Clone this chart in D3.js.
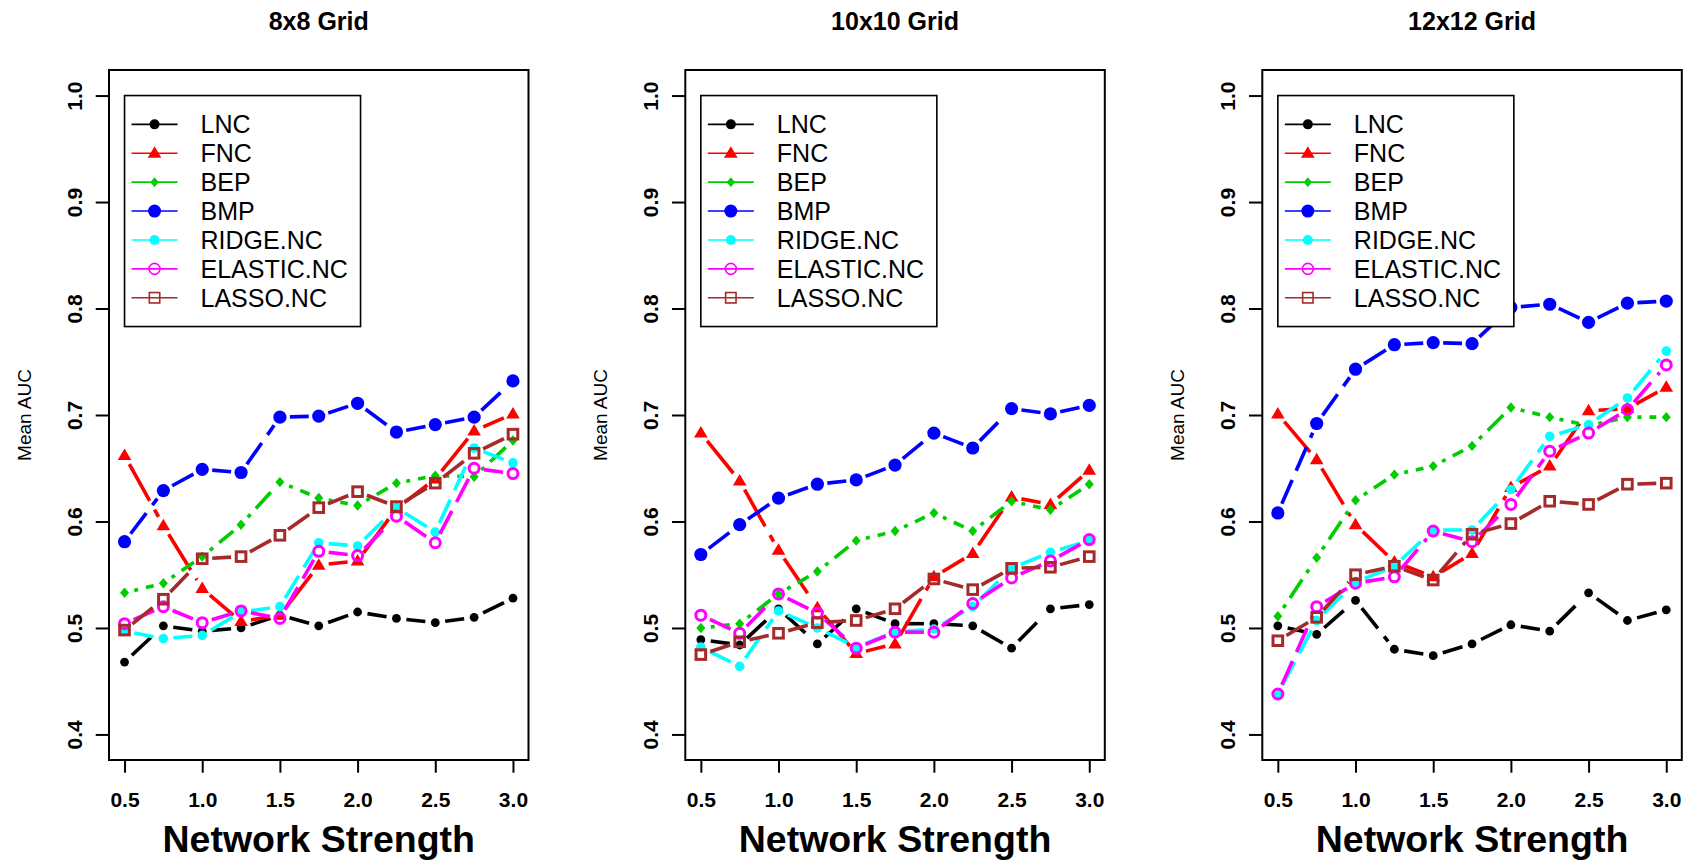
<!DOCTYPE html>
<html>
<head>
<meta charset="utf-8">
<script src="https://cdn.jsdelivr.net/npm/d3@7"></script>
<style>
  body { margin: 0; background: #fff; }
  svg { display: block; }
  text { font-family: "Liberation Sans", Arial, Helvetica, sans-serif; fill: #000; }
</style>
</head>
<body>
<svg id="chart" width="1687" height="860"></svg>
<script>
// ---------- data ----------
const xValues = [0.5, 0.75, 1.0, 1.25, 1.5, 1.75, 2.0, 2.25, 2.5, 2.75, 3.0];
const xTicks = [0.5, 1.0, 1.5, 2.0, 2.5, 3.0];
const xTickLabels = ["0.5", "1.0", "1.5", "2.0", "2.5", "3.0"];
const yTicks = [0.4, 0.5, 0.6, 0.7, 0.8, 0.9, 1.0];
const yTickLabels = ["0.4", "0.5", "0.6", "0.7", "0.8", "0.9", "1.0"];
const seriesNames = ["LNC", "FNC", "BEP", "BMP", "RIDGE.NC", "ELASTIC.NC", "LASSO.NC"];
const seriesColors = ["#000000", "#FF0000", "#00CD00", "#0000FF", "#00FFFF", "#FF00FF", "#A52A2A"];
const panelTitles = ["8x8 Grid", "10x10 Grid", "12x12 Grid"];
const xAxisTitle = "Network Strength";
const yAxisTitle = "Mean AUC";

// values per panel, rows in the order of seriesNames
const grid8 = [
  [0.468, 0.502, 0.497, 0.500, 0.512, 0.502, 0.515, 0.509, 0.505, 0.510, 0.528],
  [0.662, 0.596, 0.537, 0.506, 0.512, 0.559, 0.563, 0.612, 0.640, 0.685, 0.701],
  [0.533, 0.542, 0.567, 0.597, 0.637, 0.622, 0.615, 0.636, 0.643, 0.642, 0.676],
  [0.581, 0.629, 0.649, 0.646, 0.698, 0.699, 0.711, 0.684, 0.691, 0.698, 0.732],
  [0.497, 0.490, 0.493, 0.515, 0.520, 0.580, 0.577, 0.613, 0.590, 0.669, 0.655],
  [0.504, 0.520, 0.505, 0.516, 0.509, 0.572, 0.568, 0.605, 0.580, 0.650, 0.645],
  [0.498, 0.527, 0.565, 0.567, 0.587, 0.613, 0.628, 0.614, 0.636, 0.664, 0.682]
];
const grid10 = [
  [0.489, 0.484, 0.518, 0.485, 0.518, 0.504, 0.504, 0.502, 0.481, 0.518, 0.522],
  [0.683, 0.638, 0.573, 0.519, 0.476, 0.485, 0.548, 0.570, 0.623, 0.616, 0.648],
  [0.500, 0.504, 0.532, 0.553, 0.582, 0.591, 0.608, 0.591, 0.619, 0.611, 0.635],
  [0.569, 0.597, 0.622, 0.635, 0.639, 0.653, 0.683, 0.669, 0.706, 0.701, 0.709],
  [0.482, 0.464, 0.516, 0.500, 0.482, 0.496, 0.499, 0.520, 0.556, 0.571, 0.582],
  [0.512, 0.495, 0.532, 0.514, 0.481, 0.496, 0.496, 0.523, 0.547, 0.563, 0.583],
  [0.475, 0.487, 0.495, 0.505, 0.507, 0.518, 0.546, 0.536, 0.556, 0.557, 0.567]
];
const grid12 = [
  [0.502, 0.494, 0.526, 0.480, 0.474, 0.485, 0.503, 0.497, 0.533, 0.507, 0.517],
  [0.701, 0.658, 0.597, 0.562, 0.548, 0.570, 0.632, 0.652, 0.704, 0.706, 0.726],
  [0.511, 0.566, 0.620, 0.644, 0.652, 0.671, 0.707, 0.698, 0.690, 0.698, 0.698],
  [0.608, 0.692, 0.743, 0.766, 0.768, 0.767, 0.801, 0.804, 0.787, 0.805, 0.807],
  [0.438, 0.507, 0.543, 0.558, 0.592, 0.592, 0.630, 0.680, 0.691, 0.716, 0.760],
  [0.438, 0.520, 0.542, 0.548, 0.591, 0.581, 0.616, 0.666, 0.683, 0.705, 0.747],
  [0.488, 0.510, 0.550, 0.558, 0.545, 0.588, 0.598, 0.619, 0.616, 0.635, 0.636]
];
const panelData = [grid8, grid10, grid12];

// ---------- styling ----------
const dashes = ["26,10", "42,10", "4,8,22,8", "26,10", "26,10", "26,10", "26,10"];
const panelLefts = [109, 685.3, 1262.3];
const panelWidth = 419.5;
const plotTop = 70, plotBottom = 760;
const gap = 10;

const svg = d3.select("#chart");
svg.append("rect").attr("width", 1687).attr("height", 860).attr("fill", "#fff");

function drawMarker(g, i, cx, cy, legend) {
  const c = seriesColors[i];
  const sw = legend ? 1.6 : 3;
  switch (i) {
    case 0:
      g.append("circle").attr("cx", cx).attr("cy", cy).attr("r", legend ? 5 : 4.4).attr("fill", c);
      break;
    case 1: {
      const w = legend ? 6.8 : 6.8, h1 = legend ? 7 : 7, h2 = legend ? 4.5 : 4.5;
      g.append("path").attr("d", `M${cx},${cy - h1}L${cx + w},${cy + h2}L${cx - w},${cy + h2}Z`).attr("fill", c);
      break;
    }
    case 2: {
      const a = legend ? 4.2 : 4.5, b = legend ? 4.8 : 5.2;
      g.append("path").attr("d", `M${cx},${cy - b}L${cx + a},${cy}L${cx},${cy + b}L${cx - a},${cy}Z`).attr("fill", c);
      break;
    }
    case 3:
      g.append("circle").attr("cx", cx).attr("cy", cy).attr("r", legend ? 6.5 : 6.6).attr("fill", c);
      break;
    case 4:
      g.append("circle").attr("cx", cx).attr("cy", cy).attr("r", legend ? 5 : 4.8).attr("fill", c);
      break;
    case 5:
      g.append("circle").attr("cx", cx).attr("cy", cy).attr("r", legend ? 5.5 : 5)
        .attr("fill", "none").attr("stroke", c).attr("stroke-width", sw);
      break;
    case 6: {
      const s = legend ? 5.2 : 4.8;
      g.append("rect").attr("x", cx - s).attr("y", cy - s).attr("width", 2 * s).attr("height", 2 * s)
        .attr("fill", "none").attr("stroke", c).attr("stroke-width", sw);
      break;
    }
  }
}

panelData.forEach((data, p) => {
  const left = panelLefts[p];
  const right = left + panelWidth;
  const x = d3.scaleLinear().domain([0.4, 3.1]).range([left, right]);
  const y = d3.scaleLinear().domain([0.376, 1.024]).range([plotBottom, plotTop]);
  const g = svg.append("g");
  const cxm = (left + right) / 2;

  // title
  g.append("text").attr("x", cxm).attr("y", 29.5).attr("text-anchor", "middle")
    .attr("font-size", 25).attr("font-weight", "bold").text(panelTitles[p]);

  // x axis
  const xAxis = d3.axisBottom(x).tickValues(xTicks).tickSize(12.7).tickSizeOuter(0)
    .tickFormat((d, i) => xTickLabels[i]);
  const xg = g.append("g").attr("transform", `translate(0,${plotBottom})`).call(xAxis);
  xg.select(".domain").remove();
  xg.selectAll(".tick line").attr("stroke", "#000").attr("stroke-width", 2);
  xg.selectAll(".tick text").attr("y", 46.5).attr("dy", 0).attr("font-size", 21).attr("font-weight", "bold")
    .attr("font-family", "Liberation Sans, Arial, sans-serif").attr("fill", "#000");

  // y axis
  const yAxis = d3.axisLeft(y).tickValues(yTicks).tickSize(13.3).tickSizeOuter(0)
    .tickFormat((d, i) => yTickLabels[i]);
  const yg = g.append("g").attr("transform", `translate(${left},0)`).call(yAxis);
  yg.select(".domain").remove();
  yg.selectAll(".tick line").attr("stroke", "#000").attr("stroke-width", 2);
  yg.selectAll(".tick text")
    .attr("x", 0).attr("dy", 0).attr("text-anchor", "middle")
    .attr("transform", "translate(-27.5,0) rotate(-90)")
    .attr("font-size", 21).attr("font-weight", "bold")
    .attr("font-family", "Liberation Sans, Arial, sans-serif").attr("fill", "#000");

  // axis titles
  g.append("text").attr("x", cxm).attr("y", 852).attr("text-anchor", "middle")
    .attr("font-size", 37.5).attr("font-weight", "bold").text(xAxisTitle);
  g.append("text").attr("transform", `translate(${left - 78},${(plotTop + plotBottom) / 2}) rotate(-90)`)
    .attr("text-anchor", "middle").attr("font-size", 19).text(yAxisTitle);

  // series
  data.forEach((vals, i) => {
    const sg = g.append("g");
    const pts = vals.map((v, k) => [x(xValues[k]), y(v)]);
    for (let k = 0; k < pts.length - 1; k++) {
      const [x1, y1] = pts[k], [x2, y2] = pts[k + 1];
      const dx = x2 - x1, dy = y2 - y1, len = Math.hypot(dx, dy);
      if (len <= 2 * gap) continue;
      const ux = dx / len, uy = dy / len;
      sg.append("line")
        .attr("x1", x1 + ux * gap).attr("y1", y1 + uy * gap)
        .attr("x2", x2 - ux * gap).attr("y2", y2 - uy * gap)
        .attr("stroke", seriesColors[i]).attr("stroke-width", 3.6)
        .attr("stroke-dasharray", dashes[i]);
    }
    pts.forEach(([px, py]) => drawMarker(sg, i, px, py, false));
  });

  // legend
  const lx = x(0.5), ly = y(1.0);
  const lg = g.append("g");
  lg.append("rect").attr("x", lx).attr("y", ly).attr("width", 236).attr("height", 231)
    .attr("fill", "#fff").attr("stroke", "#000").attr("stroke-width", 1.6);
  seriesNames.forEach((name, i) => {
    const ry = ly + 28.8 + i * 28.9;
    lg.append("line").attr("x1", lx + 7).attr("x2", lx + 53).attr("y1", ry).attr("y2", ry)
      .attr("stroke", seriesColors[i]).attr("stroke-width", 1.6);
    drawMarker(lg, i, lx + 30, ry, true);
    lg.append("text").attr("x", lx + 76).attr("y", ry + 8.8).attr("font-size", 25).text(name);
  });

  // box
  g.append("rect").attr("x", left).attr("y", plotTop).attr("width", panelWidth).attr("height", plotBottom - plotTop)
    .attr("fill", "none").attr("stroke", "#000").attr("stroke-width", 2);
});
</script>
</body>
</html>
